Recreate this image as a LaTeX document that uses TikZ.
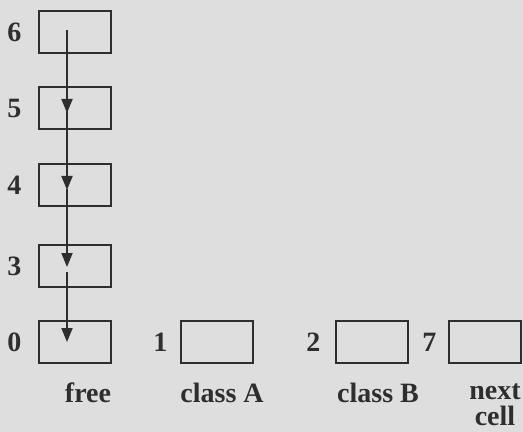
\documentclass[tikz,border=0pt]{standalone}
\usepackage{fontspec}
\setmainfont{Liberation Serif}
\usetikzlibrary{positioning,arrows.meta}
\definecolor{paper}{gray}{0.87}
\definecolor{ink}{gray}{0.18}

\begin{document}
\begin{tikzpicture}[
    x=0.5pt,
    y=-0.5pt,
    cell/.style={draw=ink,line width=1.2pt,minimum width=36pt,minimum height=21pt,inner sep=0pt},
    num/.style={font=\fontsize{14}{16}\selectfont\bfseries,text=ink,inner sep=0pt},
    caption/.style={font=\fontsize{14}{13}\selectfont\bfseries,text=ink,align=center,anchor=base},
    pointer/.style={-{Triangle[length=7pt,width=5.5pt]},line width=0.9pt,draw=ink}
]

% Scanned page.
\fill[paper] (0,0) rectangle (523,432);
\useasboundingbox (0,0) rectangle (523,432);

% Free list column.
\node[cell] (c6) at (75,32) {};
\node[cell] (c5) at (75,108) {};
\node[cell] (c4) at (75,185) {};
\node[cell] (c3) at (75,266) {};
\node[cell] (c0) at (75,342) {};

% Class heads and next cell.
\node[cell] (c1) at (217,342) {};
\node[cell] (c2) at (372,342) {};
\node[cell] (c7) at (485,342) {};

% Cell numbers.
\node[num,left=8pt of c6] (n6) {6};
\node[num,left=8pt of c5] (n5) {5};
\node[num,left=8pt of c4] (n4) {4};
\node[num,left=8pt of c3] (n3) {3};
\node[num,left=8pt of c0] (n0) {0};
\node[num,left=6pt of c1] (n1) {1};
\node[num,left=7pt of c2] (n2) {2};
\node[num,left=5.5pt of c7] (n7) {7};

% Captions (base of a two-line node is its last line).
\node[caption] (lfree) at (88,402) {free};
\node[caption] (lclassA) at (222,402) {class A};
\node[caption] (lclassB) at (378,402) {class B};
\node[caption] (lnext) at (495,425) {next\\cell};

% Links of the free list.
\draw[pointer] ([xshift=-4pt,yshift=1pt]c6.center) -- ([xshift=-4pt,yshift=-2.5pt]c5.center);
\draw[pointer] ([xshift=-4pt,yshift=-1pt]c5.center) -- ([xshift=-4pt,yshift=-2.5pt]c4.center);
\draw[pointer] ([xshift=-4pt,yshift=-2pt]c4.center) -- ([xshift=-4pt,yshift=-0.5pt]c3.center);
\draw[pointer] ([xshift=-4pt,yshift=-3pt]c3.center) -- ([xshift=-4pt]c0.center);

\end{tikzpicture}
\end{document}
